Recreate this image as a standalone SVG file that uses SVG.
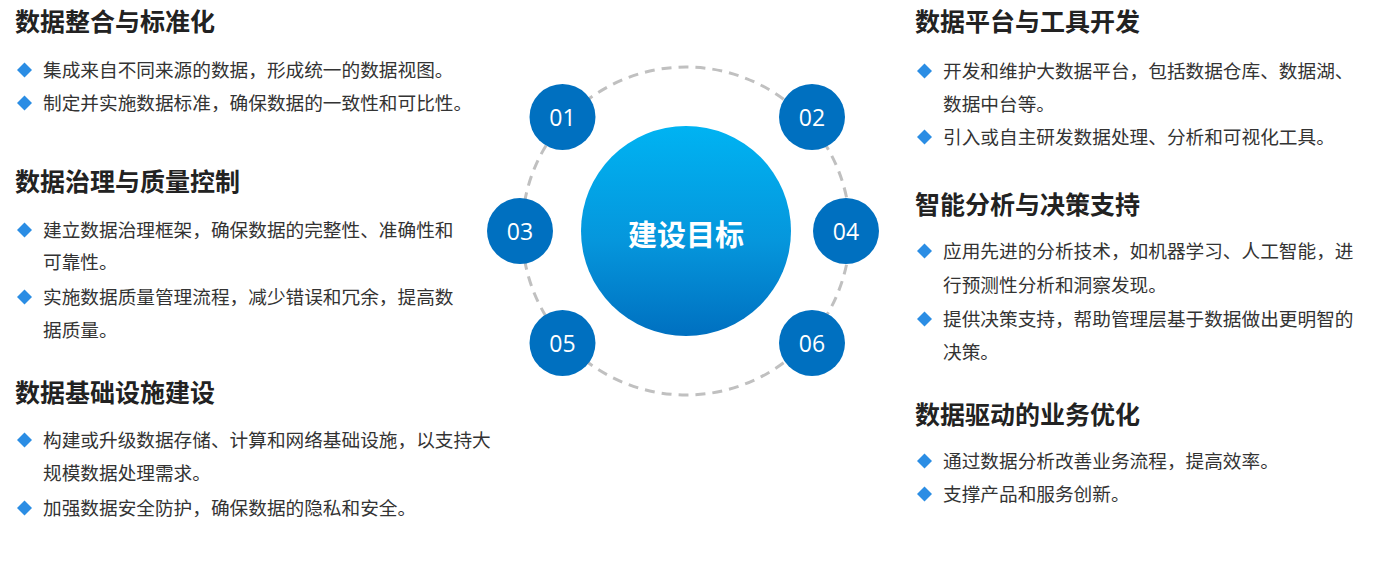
<svg xmlns="http://www.w3.org/2000/svg" width="1382" height="563" viewBox="0 0 1382 563">
<defs>
<linearGradient id="cg" x1="0" y1="0" x2="0" y2="1">
<stop offset="0" stop-color="#00b3f2"/>
<stop offset="0.55" stop-color="#0596dc"/>
<stop offset="1" stop-color="#0070c0"/>
</linearGradient>
<path id="dm" d="M0,-7.5 L7.5,0 L0,7.5 L-7.5,0 Z"/>
</defs>
<style>
.t{font-family:"Noto Sans CJK SC","Noto Sans",sans-serif;font-size:25px;font-weight:700;fill:#222222}
.b{font-family:"Noto Sans CJK SC","Noto Sans",sans-serif;font-size:18.67px;fill:#333333}
.d{fill:#2b8de4}
.n{fill:#0070c0}
.nt{font-family:"Open Sans","Noto Sans",sans-serif;font-size:23px;fill:#ffffff;text-anchor:middle;dominant-baseline:central}
</style>
<rect width="1382" height="563" fill="#ffffff"/>
<g id="connectors">
<circle cx="686" cy="231" r="164" fill="none" stroke="#c0c0c0" stroke-width="3" stroke-dasharray="10 7"/>
</g>
<g id="center">
<circle cx="686" cy="231" r="105" fill="url(#cg)"/>
<text x="686" y="233" font-family="Noto Sans CJK SC, sans-serif" font-size="29" font-weight="700" fill="#ffffff" text-anchor="middle" dominant-baseline="central">建设目标</text>
</g>
<g id="n01"><circle class="n" cx="562.5" cy="117" r="33"/><text class="nt" x="562.5" y="117">01</text></g>
<g id="n02"><circle class="n" cx="812" cy="117" r="33"/><text class="nt" x="812" y="117">02</text></g>
<g id="n03"><circle class="n" cx="520" cy="231" r="33"/><text class="nt" x="520" y="231">03</text></g>
<g id="n04"><circle class="n" cx="846" cy="231" r="33"/><text class="nt" x="846" y="231">04</text></g>
<g id="n05"><circle class="n" cx="562.5" cy="343" r="33"/><text class="nt" x="562.5" y="343">05</text></g>
<g id="n06"><circle class="n" cx="812" cy="343" r="33"/><text class="nt" x="812" y="343">06</text></g>

<g id="sec1">
<text class="t" x="15" y="31">数据整合与标准化</text>
<use href="#dm" class="d" x="24.5" y="70"/>
<text class="b" x="43" y="77">集成来自不同来源的数据，形成统一的数据视图。</text>
<use href="#dm" class="d" x="24.5" y="103"/>
<text class="b" x="43" y="110">制定并实施数据标准，确保数据的一致性和可比性。</text>
</g>
<g id="sec2">
<text class="t" x="15" y="191">数据治理与质量控制</text>
<use href="#dm" class="d" x="24.5" y="230"/>
<text class="b" x="43" y="237">建立数据治理框架，确保数据的完整性、准确性和</text>
<text class="b" x="43" y="269">可靠性。</text>
<use href="#dm" class="d" x="24.5" y="297"/>
<text class="b" x="43" y="304">实施数据质量管理流程，减少错误和冗余，提高数</text>
<text class="b" x="43" y="337">据质量。</text>
</g>
<g id="sec3">
<text class="t" x="15" y="402">数据基础设施建设</text>
<use href="#dm" class="d" x="24.5" y="440"/>
<text class="b" x="43" y="447">构建或升级数据存储、计算和网络基础设施，以支持大</text>
<text class="b" x="43" y="480">规模数据处理需求。</text>
<use href="#dm" class="d" x="24.5" y="508"/>
<text class="b" x="43" y="515">加强数据安全防护，确保数据的隐私和安全。</text>
</g>
<g id="sec4">
<text class="t" x="915" y="31">数据平台与工具开发</text>
<use href="#dm" class="d" x="924.5" y="71"/>
<text class="b" x="943" y="78">开发和维护大数据平台，包括数据仓库、数据湖、</text>
<text class="b" x="943" y="111">数据中台等。</text>
<use href="#dm" class="d" x="924.5" y="137"/>
<text class="b" x="943" y="144">引入或自主研发数据处理、分析和可视化工具。</text>
</g>
<g id="sec5">
<text class="t" x="915" y="214">智能分析与决策支持</text>
<use href="#dm" class="d" x="924.5" y="251"/>
<text class="b" x="943" y="258">应用先进的分析技术，如机器学习、人工智能，进</text>
<text class="b" x="943" y="292">行预测性分析和洞察发现。</text>
<use href="#dm" class="d" x="924.5" y="319"/>
<text class="b" x="943" y="326">提供决策支持，帮助管理层基于数据做出更明智的</text>
<text class="b" x="943" y="359">决策。</text>
</g>
<g id="sec6">
<text class="t" x="915" y="424">数据驱动的业务优化</text>
<use href="#dm" class="d" x="924.5" y="461"/>
<text class="b" x="943" y="468">通过数据分析改善业务流程，提高效率。</text>
<use href="#dm" class="d" x="924.5" y="494"/>
<text class="b" x="943" y="501">支撑产品和服务创新。</text>
</g>
</svg>
